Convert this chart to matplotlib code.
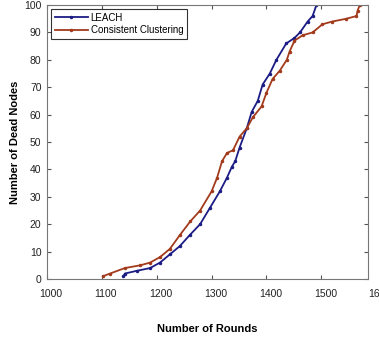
import matplotlib
matplotlib.use("Agg")
import matplotlib.pyplot as plt
import matplotlib.transforms as mtransforms

# dead nodes per round
leach_rounds = [1139, 1142, 1164, 1188, 1206, 1224, 1242, 1260, 1279, 1297,
                1315, 1328, 1337, 1343, 1351, 1364, 1373, 1384, 1393, 1406,
                1418, 1436, 1451, 1461, 1475, 1484, 1491]
leach_dead = [1, 2, 3, 4, 6, 9, 12, 16, 20, 26,
              32, 37, 41, 43, 48, 55, 61, 65, 71, 75,
              80, 86, 88, 90, 94, 96, 100]

cc_rounds = [1102, 1115, 1142, 1170, 1188, 1206, 1224, 1242, 1261, 1279,
             1300, 1310, 1319, 1328, 1339, 1351, 1364, 1375, 1391, 1400,
             1411, 1424, 1437, 1442, 1451, 1466, 1484, 1502, 1520, 1545,
             1564, 1566, 1570]
cc_dead = [1, 2, 4, 5, 6, 8, 11, 16, 21, 25,
           32, 37, 43, 46, 47, 52, 55, 59, 63, 68,
           73, 76, 80, 83, 87, 89, 90, 93, 94, 95,
           96, 98, 100]

x_ticks = [1000, 1100, 1200, 1300, 1400, 1500]
y_ticks = [0, 10, 20, 30, 40, 50, 60, 70, 80, 90, 100]

plt.rcParams['font.family'] = ['Liberation Sans', 'DejaVu Sans']

fig = plt.figure(figsize=(3.79, 3.39), dpi=100)
ax = fig.add_axes([0.124, 0.177, 0.847, 0.808])

ax.plot(leach_rounds, leach_dead, color='#1c1c85',
        marker='.', markersize=3, linewidth=1.3, label='LEACH')
ax.plot(cc_rounds, cc_dead, color='#a23a1c',
        marker='.', markersize=3, linewidth=1.3, label='Consistent Clustering')

ax.set_xlim(1000, 1585)
ax.set_ylim(0, 100)
ax.set_xticks(x_ticks)
ax.set_yticks(y_ticks)
ax.tick_params(direction='in', top=True, right=True, length=3, labelsize=7.5,
               color='#555555', labelcolor='#222222')
ax.tick_params(axis='x', pad=7)
ax.tick_params(axis='y', pad=4)
for sp in ax.spines.values():
    sp.set_color('#777777')
    sp.set_linewidth(0.8)

# labels in the picture sit a little right of their ticks
shift = mtransforms.ScaledTranslation(4 / 100, 0, fig.dpi_scale_trans)
for lbl in ax.get_xticklabels():
    lbl.set_transform(lbl.get_transform() + shift)
trans = mtransforms.blended_transform_factory(ax.transData, ax.transAxes)
down = mtransforms.ScaledTranslation(4 / 100, -7 / 72, fig.dpi_scale_trans)
ax.text(1600, 0, '1600', transform=trans + down, ha='center', va='top',
        fontsize=7.5, color='#222222', clip_on=False)

ax.set_xlabel('Number of Rounds', fontsize=8, fontweight='bold', labelpad=18)
ax.set_ylabel('Number of Dead Nodes', fontsize=8, fontweight='bold', labelpad=3)

leg = ax.legend(loc='upper left', fontsize=7, frameon=True, fancybox=False,
                edgecolor='black', borderpad=0.35, labelspacing=0.25,
                handlelength=3.4, handletextpad=0.3, borderaxespad=0.45)
leg.get_frame().set_linewidth(0.8)

fig.savefig('out.png', dpi=100)
